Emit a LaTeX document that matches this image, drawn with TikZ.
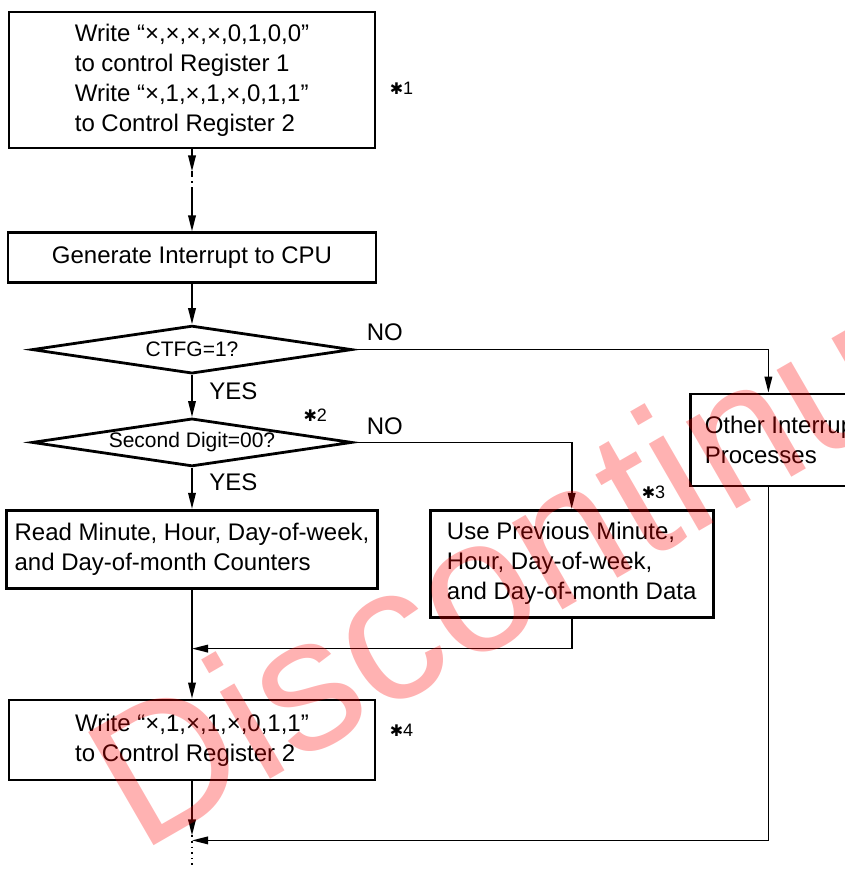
\documentclass[tikz,border=0pt]{standalone}
\usepackage{fontspec}
\setmainfont{Liberation Sans}
\newfontfamily\dejavu{DejaVu Sans}
\usetikzlibrary{arrows.meta,positioning,shapes.geometric}
\newcommand{\starmark}{{\dejavu\fontsize{8}{8}\selectfont ✱}}

\begin{document}
\begin{tikzpicture}[font=\fontsize{12}{15}\selectfont,
  box/.style={draw,line width=1.4pt,align=left,inner sep=4pt},
  test/.style={draw,diamond,line width=1.4pt,aspect=6.67,inner sep=0pt,minimum width=160pt,minimum height=24pt,font=\fontsize{10.5}{12}\selectfont},
  flow/.style={line width=0.8pt},
  tag/.style={inner sep=0pt},
  note/.style={inner sep=0pt,font=\fontsize{9}{10}\selectfont},
  >={Triangle[length=8pt,width=3.8pt]}]
\useasboundingbox (0,0) rectangle (422.5pt,-434.5pt);
\clip (0,0) rectangle (422.5pt,-434.5pt);
% boxes and tests
\node[box,minimum width=183pt,minimum height=68pt] (init) at (96pt,-40pt) {Write “×,×,×,×,0,1,0,0”\\to control Register 1\\Write “×,1,×,1,×,0,1,1”\\to Control Register 2};
\node[box,minimum width=184pt,minimum height=25pt,below=41pt of init] (irq) {Generate Interrupt to CPU};
\node[test,below=20pt of irq] (ctfg) {CTFG=1?};
\node[test,below=21pt of ctfg] (sec) {Second Digit=00?};
\node[box,minimum width=184pt,minimum height=39pt,below=20.5pt of sec] (read) {Read Minute, Hour, Day-of-week,\\and Day-of-month Counters};
\node[box,minimum width=141.5pt,minimum height=53.5pt,below right=0pt and 25pt of read.north east] (prev) {Use Previous Minute,\\Hour, Day-of-week,\\and Day-of-month Data};
\node[box,minimum height=46pt,inner xsep=7pt,below right=21.5pt and 168pt of ctfg.east] (other) {Other Interrupt\\Processes};
\node[box,minimum width=183pt,minimum height=40pt,below=54.5pt of read] (rewrite) {Write “×,1,×,1,×,0,1,1”\\to Control Register 2};
% helper points
\coordinate[below=11pt of init] (gap1);
\coordinate[below=22pt of init] (gap2);
\coordinate[above=25pt of rewrite] (join1);
\coordinate[below=29.5pt of rewrite] (join2);
\coordinate[below=27pt of rewrite] (tip);
\coordinate (bottom) at (rewrite.south |- 0,-434.5pt);
% connectors
\draw[flow,->] (init) -- (gap1);
\draw[flow,dash dot] (gap1) -- (gap2);
\draw[flow,->] (gap2) -- (irq);
\draw[flow,->] (irq) -- (ctfg);
\draw[flow,->] (ctfg) -- (sec);
\draw[flow,->] (sec) -- (read);
\draw[flow,->] (read) -- (rewrite);
\draw[flow,->] (ctfg.east) -| ([xshift=39.5pt]other.north west);
\draw[flow,->] (sec.east) -| (prev.north);
\draw[flow,->] (prev.south) |- (join1);
\draw[flow,->] ([xshift=39.5pt]other.south west) |- (join2);
\draw[flow,->] (rewrite) -- (tip);
\draw[flow,dotted] (tip) -- (bottom);
% labels
\node[tag,above right=4pt and 6.5pt of ctfg.east] {NO};
\node[tag,above right=3.5pt and 6.5pt of sec.east] {NO};
\node[tag,below right=3.5pt and 8.5pt of ctfg.south] {YES};
\node[tag,below right=3pt and 8.5pt of sec.south] {YES};
\node[note,right=6.5pt of init,yshift=-4pt] {\starmark1};
\node[note,above left=10.5pt and 13pt of sec.east] {\starmark2};
\node[note,above left=5pt and 24.5pt of prev.north east] {\starmark3};
\node[note,right=6.5pt of rewrite,yshift=5pt] {\starmark4};
% stamp
\node[rotate=30,anchor=base west,inner sep=0pt,text=red,opacity=0.3,font=\fontsize{95}{95}\selectfont] (stamp) at (70pt,-427pt) {Discontinued};
\end{tikzpicture}
\end{document}
